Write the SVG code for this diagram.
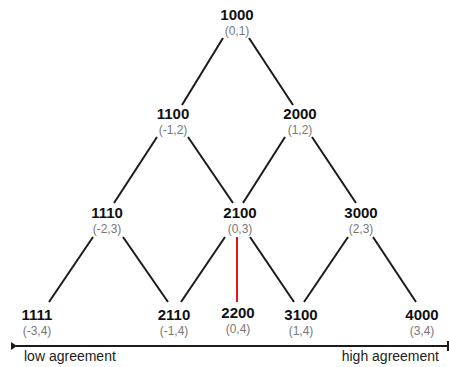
<svg xmlns="http://www.w3.org/2000/svg" width="449" height="367" viewBox="0 0 449 367">
<style>
.n{font-family:"Liberation Sans",Arial,sans-serif;font-weight:bold;font-size:15px;fill:#111;text-anchor:middle}
.c{font-family:"Liberation Sans",Arial,sans-serif;font-size:12px;fill:#777;text-anchor:middle}
.a{font-family:"Liberation Sans",Arial,sans-serif;font-size:14px;fill:#222}
.e{stroke:#1a1a1a;stroke-width:2;fill:none}
.r{stroke:#e8121c;stroke-width:2;fill:none}
</style>
<defs>
<marker id="ah" markerWidth="6" markerHeight="8" refX="1" refY="4" orient="auto-start-reverse" markerUnits="userSpaceOnUse">
<path d="M6,0 L0,4 L6,8 Z" fill="#1a1a1a"/>
</marker>
</defs>
<rect width="449" height="367" fill="#fff"/>
<g id="connectors">
<line class="e" x1="223" y1="38" x2="182" y2="105"/>
<line class="e" x1="249" y1="38" x2="293" y2="105"/>
<line class="e" x1="157" y1="137" x2="114" y2="203"/>
<line class="e" x1="188" y1="137" x2="233" y2="203"/>
<line class="e" x1="285" y1="137" x2="243" y2="203"/>
<line class="e" x1="312" y1="137" x2="356" y2="203"/>
<line class="e" x1="93" y1="237" x2="49" y2="302"/>
<line class="e" x1="123" y1="237" x2="168" y2="302"/>
<line class="e" x1="225" y1="237" x2="181" y2="302"/>
<line class="r" x1="237" y1="237" x2="237" y2="302"/>
<line class="e" x1="250" y1="237" x2="294" y2="302"/>
<line class="e" x1="348" y1="237" x2="304" y2="302"/>
<line class="e" x1="373" y1="237" x2="416" y2="302"/>
</g>
<g id="axis">
<line class="e" x1="448" y1="346" x2="16" y2="346" marker-end="url(#ah)"/>
<line class="e" x1="448" y1="341" x2="448" y2="351"/>
<text class="a" x="24" y="361">low agreement</text>
<text class="a" x="439" y="361" text-anchor="end">high agreement</text>
</g>
<g id="n1000"><text class="n" x="237" y="20">1000</text><text class="c" x="237" y="34.5">(0,1)</text></g>
<g id="n1100"><text class="n" x="173" y="119">1100</text><text class="c" x="173" y="133.5">(-1,2)</text></g>
<g id="n2000"><text class="n" x="300" y="119">2000</text><text class="c" x="300" y="133.5">(1,2)</text></g>
<g id="n1110"><text class="n" x="107" y="218">1110</text><text class="c" x="107" y="232.5">(-2,3)</text></g>
<g id="n2100"><text class="n" x="240" y="218">2100</text><text class="c" x="240" y="232.5">(0,3)</text></g>
<g id="n3000"><text class="n" x="361" y="218">3000</text><text class="c" x="361" y="232.5">(2,3)</text></g>
<g id="n1111"><text class="n" x="37" y="320">1111</text><text class="c" x="37" y="334.5">(-3,4)</text></g>
<g id="n2110"><text class="n" x="174" y="320">2110</text><text class="c" x="174" y="334.5">(-1,4)</text></g>
<g id="n2200"><text class="n" x="238" y="318">2200</text><text class="c" x="238" y="332.5">(0,4)</text></g>
<g id="n3100"><text class="n" x="301" y="320">3100</text><text class="c" x="301" y="334.5">(1,4)</text></g>
<g id="n4000"><text class="n" x="422" y="320">4000</text><text class="c" x="422" y="334.5">(3,4)</text></g>
</svg>
